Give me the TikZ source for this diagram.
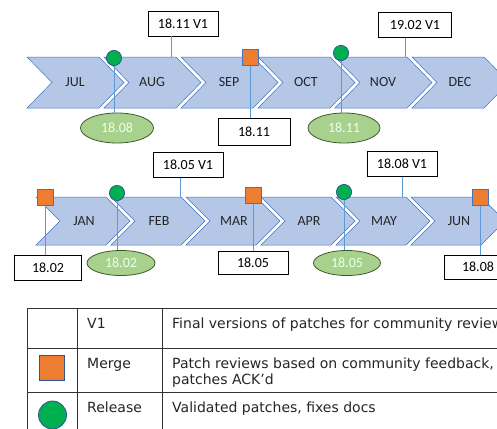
\documentclass[tikz,border=0pt]{standalone}
\usepackage{fontspec}
\setmainfont{Carlito}
\newfontfamily\tablefont{DejaVu Sans}
\usepackage{tikz}
\usetikzlibrary{shapes.geometric}
\usepackage{xcolor}
\definecolor{chevfill}{HTML}{B4C7E7}
\definecolor{chevline}{HTML}{4472C4}
\definecolor{linkblue}{HTML}{5B9BD5}
\definecolor{mergeor}{HTML}{ED7D31}
\definecolor{relgreen}{HTML}{00B050}
\definecolor{ellfill}{HTML}{A9D18E}
\definecolor{ellline}{HTML}{3A5A2A}
\definecolor{markline}{HTML}{2F5597}

\begin{document}
\begin{tikzpicture}[x=1pt,y=-1pt,font=\fontsize{14}{16}\selectfont,line join=miter,
  chevron/.style={fill=chevfill,draw=chevline,line width=0.5pt},
  month/.style={text=black!85,inner sep=0pt},
  link/.style={draw=linkblue,line width=0.7pt},
  vbox/.style={draw=black,fill=white,line width=0.8pt,inner sep=0pt,minimum width=70,minimum height=25},
  relell/.style={ellipse,draw=ellline,fill=ellfill,line width=0.8pt,text=white!92!green,inner sep=0pt,minimum width=70,minimum height=27},
  mergesq/.style={rectangle,draw=chevline,fill=mergeor,line width=0.6pt,inner sep=0pt,minimum size=16},
  relcirc/.style={circle,draw=markline,fill=relgreen,line width=0.6pt,inner sep=0pt,minimum size=15},
  legtext/.style={font=\tablefont\fontsize{14}{16}\selectfont,anchor=base west,inner sep=0pt,align=left,text=black!85}]
\useasboundingbox (0,0) rectangle (497,428);
\clip (0,0) rectangle (497,428);
\fill[white] (0,0) rectangle (497,428);

% first row of months
\foreach \mon [count=\i from 0] in {JUL,AUG,SEP,OCT,NOV,DEC}{
  \draw[chevron] ({27+77*\i},57) -- ++(72,0) -- ++(25,25.5) -- ++(-25,25.5) -- ++(-72,0) -- ++(25,-25.5) -- cycle;
  \node[month] (m\mon) at ({27+77*\i+48},82.5) {\mon};
}
% second row of months
\foreach \mon [count=\i from 0] in {JAN,FEB,MAR,APR,MAY,JUN}{
  \draw[chevron] ({36+75*\i},197) -- ++(70,0) -- ++(24,24) -- ++(-24,24) -- ++(-70,0) -- ++(24,-24) -- cycle;
  \node[month] (m\mon) at ({36+75*\i+48},221) {\mon};
}

\coordinate (t1) at (171,57);
\coordinate (t2) at (405,57);
\coordinate (t3) at (180,197);
\coordinate (t4) at (402,197);

% V1 boxes
\node[vbox] (v1) at (183,23.5) {18.11 V1};
\node[vbox,minimum width=73] (v2) at (415,25) {19.02 V1};
\node[vbox] (v3) at (188,165) {18.05 V1};
\node[vbox] (v4) at (402,164) {18.08 V1};
\draw[link] (v1.south -| t1) -- (t1);
\draw[link] (v2.south -| t2) -- (t2);
\draw[link] (v3.south -| t3) -- (t3);
\draw[link] (v4.south -| t4) -- (t4);

% merges
\node[mergesq] (s1) at (250,57) {};
\node[mergesq] (s2) at (45,197) {};
\node[mergesq] (s3) at (253,195) {};
\node[mergesq] (s4) at (480,197) {};
\node[vbox,minimum width=72,minimum height=27] (b1) at (254,132) {18.11};
\node[vbox,minimum width=67] (b2) at (48,268) {18.02};
\node[vbox,minimum height=23] (b3) at (253,263) {18.05};
\node[vbox,minimum width=67,minimum height=24] (b4) at (478,267) {18.08};
\draw[link] (s1) -- (s1 |- b1.north);
\draw[link] (s2) -- (s2 |- b2.north);
\draw[link] (s3) -- (s3 |- b3.north);
\draw[link] (s4) -- (s4 |- b4.north);

% releases
\node[relcirc] (c1) at (114,58) {};
\node[relcirc] (c2) at (341,53) {};
\node[relcirc] (c3) at (117,193) {};
\node[relcirc] (c4) at (344,192) {};
\node[relell,minimum width=73,minimum height=30] (e1) at (117,128) {18.08};
\node[relell,minimum width=72,minimum height=30] (e2) at (344,128) {18.11};
\node[relell,minimum width=68,minimum height=25] (e3) at (121,263) {18.02};
\node[relell,minimum width=67,minimum height=25] (e4) at (347,263) {18.05};
\draw[link] (c1) -- (c1 |- e1.north);
\draw[link] (c2) -- (c2 |- e2.north);
\draw[link] (c3) -- (c3 |- e3.north);
\draw[link] (c4) -- (c4 |- e4.north);
% redraw markers over their lines
\node[relcirc] at (c1) {};
\node[relcirc] at (c2) {};
\node[relcirc] at (c3) {};
\node[relcirc] at (c4) {};
\node[mergesq] at (s1) {};
\node[mergesq] at (s2) {};
\node[mergesq] at (s3) {};
\node[mergesq] at (s4) {};

% legend table
\draw[black!80,line width=1pt] (27,308) -- (520,308) (27,348) -- (520,348) (27,392) -- (520,392)
  (27,308) -- (27,440) (77,308) -- (77,440) (162,308) -- (162,440);
\node[legtext] (l1) at (87,328) {V1};
\node[legtext] (l2) at (87,368) {Merge};
\node[legtext] (l3) at (87,412) {Release};
\node[legtext] (d1) at (172,328) {Final versions of patches for community review};
\node[legtext] (d2) at (172,384) {Patch reviews based on community feedback,\\patches ACK’d};
\node[legtext] (d3) at (172,412) {Validated patches, fixes docs};
\node[mergesq,draw=markline,line width=0.8pt,minimum size=25] (k1) at (51.5,368) {};
\node[relcirc,line width=0.8pt,minimum size=28] (k2) at (52.5,415) {};
\end{tikzpicture}
\end{document}
